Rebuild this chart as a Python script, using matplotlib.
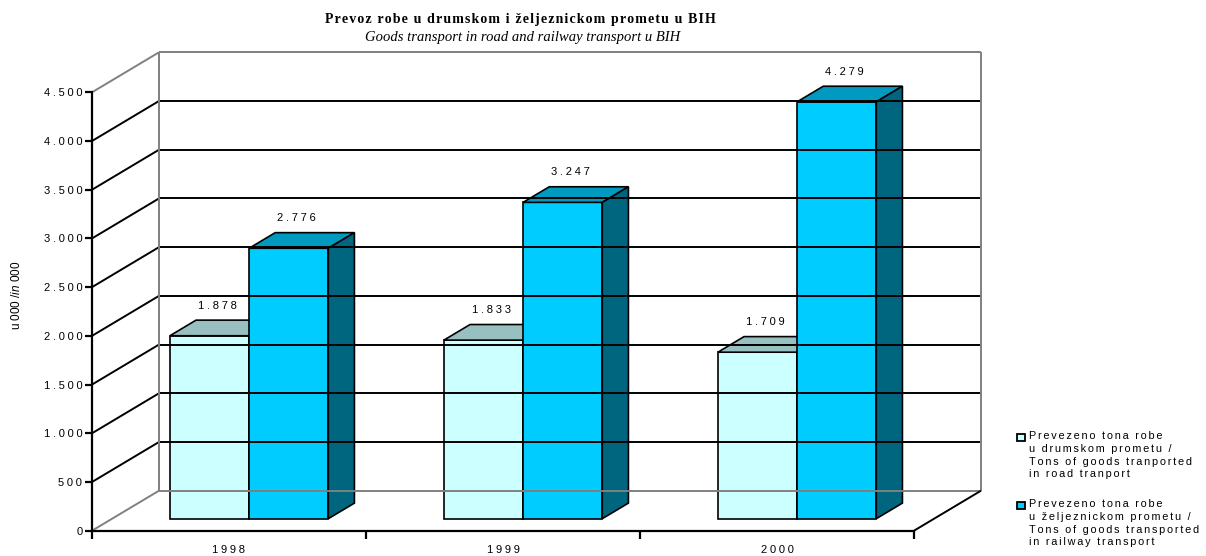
import matplotlib
matplotlib.use('Agg')
import matplotlib.pyplot as plt
from matplotlib.patches import Polygon, Rectangle
from matplotlib.transforms import Affine2D, IdentityTransform

# data (thousands of tonnes)
years = ['1998', '1999', '2000']
road = [1878, 1833, 1709]
rail = [2776, 3247, 4279]
y_ticks = [0, 500, 1000, 1500, 2000, 2500, 3000, 3500, 4000, 4500]

title_1 = 'Prevoz robe u drumskom i željeznickom prometu u BIH'
title_2 = 'Goods transport in road and railway transport u BIH'
road_label = 'Prevezeno tona robe\nu drumskom prometu /\nTons of goods tranported\nin road tranport'
rail_label = 'Prevezeno tona robe\nu željeznickom prometu /\nTons of goods transported\nin railway transport'

road_cols = ('#CCFFFF', '#99C0C0', '#669999')   # front, top, side
rail_cols = ('#00CCFF', '#0099C0', '#00667F')
GREY = '#808080'

W, H = 1206, 556
DX, DY = 67, 40        # floor depth in pixels
Z0, Z1 = 0.3, 0.69     # bar depth range
BAR_W = 0.289

plt.rcParams['font.family'] = ['Liberation Sans', 'DejaVu Sans']
plt.rcParams['mathtext.fontset'] = 'custom'
plt.rcParams['mathtext.rm'] = 'Liberation Sans'
plt.rcParams['mathtext.it'] = 'Liberation Sans:italic'


def spaced(s, sp='\u2009'):
    # fake the wide excel letter spacing
    return '\n'.join(sp.join(line) for line in s.split('\n'))


def num(v):
    return f'{v:,}'.replace(',', '.')


fig = plt.figure(figsize=(W / 100, H / 100), dpi=100)
ax = fig.add_axes([92 / W, 25.3 / H, 822 / W, 438.4 / H])
ax.set_xlim(0, 3)
ax.set_ylim(0, 4500)
ax.patch.set_visible(False)
ax.spines['top'].set_visible(False)
ax.spines['right'].set_visible(False)
ax.spines['left'].set_linewidth(1.6)
ax.spines['bottom'].set_linewidth(1.6)

ax.set_yticks(y_ticks)
ax.set_yticklabels([spaced(num(v), '\u2005') for v in y_ticks])
ax.set_xticks([0, 1, 2, 3])
ax.set_xticklabels([])
ax.set_xticks([0.5, 1.5, 2.5], minor=True)
ax.set_xticklabels([spaced(y, '\u2005') for y in years], minor=True)
ax.tick_params(axis='y', length=5, width=1.6, pad=2, labelsize=8)
ax.tick_params(axis='x', which='major', length=6, width=1.6)
ax.tick_params(axis='x', which='minor', length=0, pad=10, labelsize=8)


def proj(x, y, z):
    px, py = ax.transData.transform((x, y))
    return (px + z * DX, py + z * DY)


def seg(p, q, col, lw=1.4):
    ax.plot([p[0], q[0]], [p[1], q[1]], color=col, lw=lw,
            transform=IdentityTransform(), clip_on=False, solid_capstyle='butt')


# back wall + left wall grid
for v in y_ticks:
    col = GREY if v in (0, 4500) else 'black'
    seg(proj(0, v, 1), proj(3, v, 1), col)
    seg(proj(0, v, 0), proj(0, v, 1), col)
seg(proj(0, 0, 1), proj(0, 4500, 1), GREY)
seg(proj(3, 0, 1), proj(3, 4500, 1), GREY)
seg(proj(3, 0, 0), proj(3, 0, 1), 'black')


def box(x0, x1, v, cols):
    front = [proj(x0, 0, Z0), proj(x1, 0, Z0), proj(x1, v, Z0), proj(x0, v, Z0)]
    top = [proj(x0, v, Z0), proj(x1, v, Z0), proj(x1, v, Z1), proj(x0, v, Z1)]
    side = [proj(x1, 0, Z0), proj(x1, 0, Z1), proj(x1, v, Z1), proj(x1, v, Z0)]
    for pts, c in zip([front, top, side], cols):
        ax.add_patch(Polygon(pts, closed=True, facecolor=c, edgecolor='black',
                             lw=1.2, transform=IdentityTransform(), clip_on=False))


lab_tr = ax.transData + Affine2D().translate(Z0 * DX + 8, Z0 * DY + 30)
for i in range(len(years)):
    for k, (vals, cols) in enumerate([(road, road_cols), (rail, rail_cols)]):
        x0 = i + 0.5 - BAR_W + k * BAR_W
        box(x0, x0 + BAR_W, vals[i], cols)
        ax.text(x0 + BAR_W / 2, vals[i], spaced(num(vals[i]), '\u2005'),
                transform=lab_tr, ha='center', va='center', fontsize=8)

# titles
fig.text(520 / W, 1 - 19 / H, spaced(title_1, '\u200a'), ha='center', va='center',
         family=['Liberation Serif', 'DejaVu Serif'], weight='bold', size=10)
fig.text(523 / W, 1 - 37 / H, title_2, ha='center', va='center',
         family=['Liberation Serif', 'DejaVu Serif'], style='italic', size=10.5)

fig.text(17 / W, 1 - 295 / H, 'u 000 /$\\mathit{in\\ 000}$', rotation=90,
         ha='center', va='center', size=8.5)

# legend drawn by hand (marker sits on the first line)
for j, (lab, cols) in enumerate([(road_label, road_cols), (rail_label, rail_cols)]):
    ytop = 431 + j * 68
    fig.add_artist(Rectangle((1017 / W, 1 - (ytop + 10) / H), 8 / W, 7 / H,
                             transform=fig.transFigure, facecolor=cols[0],
                             edgecolor='black', lw=1.3))
    fig.text(1029 / W, 1 - ytop / H, spaced(lab, '\u2006'), ha='left', va='top',
             size=7.8, linespacing=1.35)

fig.savefig('out.png', dpi=100)
